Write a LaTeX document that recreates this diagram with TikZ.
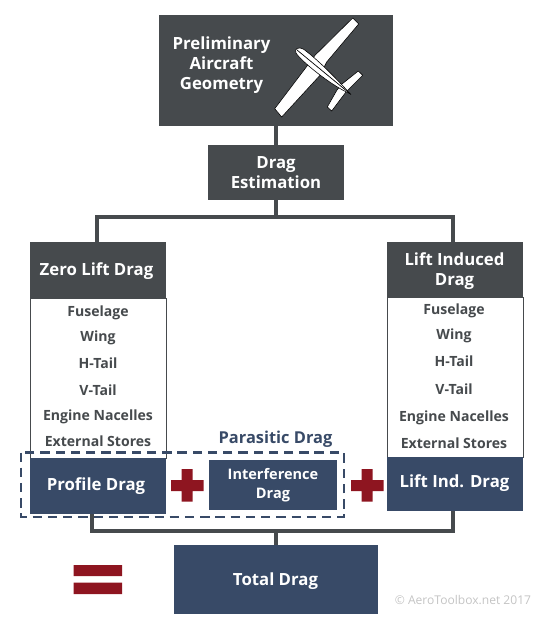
\documentclass[tikz,border=0pt]{standalone}
\usepackage{fontspec}
\setmainfont{Open Sans}
\usetikzlibrary{positioning}
\definecolor{slate}{HTML}{464A4D}
\definecolor{navy}{HTML}{384A67}
\definecolor{crimson}{HTML}{8E1520}
\definecolor{stamp}{HTML}{C4C4C4}

\begin{document}
\begin{tikzpicture}[x=.03cm,y=-.03cm,font=\bfseries]
  \tikzset{
    greybox/.style={fill=slate,text=white,align=center,inner sep=0pt,font=\fontsize{14.3}{17}\selectfont\bfseries},
    navybox/.style={fill=navy,text=white,align=center,inner sep=0pt,font=\fontsize{14.3}{17}\selectfont\bfseries},
    boxtext/.style={text=white,align=center,inner sep=0pt,font=\fontsize{14.3}{17}\selectfont\bfseries},
    listbox/.style={draw=slate,line width=.7pt,fill=white,inner sep=0pt},
    item/.style={text=slate,inner sep=0pt,text height=.75em,text depth=.2em,font=\fontsize{12}{14}\selectfont\bfseries},
    wire/.style={slate,line width=2.7pt},
    planepart/.style={fill=white,draw=black,line width=.5pt,line join=round}
  }
  \useasboundingbox (0,0) rectangle (553,623);

  % Top of the tree.
  \node[greybox,minimum width=7.02cm,minimum height=3.33cm] (geom) at (276,70.5) {};
  \node[boxtext] (geomtxt) at (221.5,65) {Preliminary\\Aircraft\\Geometry};
  \node[greybox,minimum width=4.08cm,minimum height=1.65cm] (est) at (276,172.5) {};
  \node[boxtext] (esttxt) at (276,173) {Drag\\Estimation};

  % Aeroplane.
  \draw[planepart] (352.7,18) -- (358.7,24) -- (326.7,62) -- (320,75.3) -- (281.7,117) -- (274.7,108.7) -- (305,68.7) -- (315,55.3) -- cycle;
  \draw[planepart] (358.3,71) -- (362.7,75.3) -- (346,92) -- (331.7,111) -- (327.3,107) -- (337,90) -- (342,84) -- cycle;
  \draw[planepart] (350,93.7) .. controls (335,77) and (318,60) .. (304,49.5)
    .. controls (298,46) and (294,49) .. (296,53) .. controls (300,60) and (330,85) .. (350,93.7);
  \draw[black,line width=.6pt] (297,50) -- (351,94.5);

  % Left column.
  \node[listbox,minimum width=4.08cm,minimum height=4.8cm] (zbody) at (98,378) {};
  \node[greybox,minimum width=4.08cm,minimum height=1.68cm] (zero) at (98,270) {};
  \node[boxtext] (zerotxt) at (96.5,271) {Zero Lift Drag};
  \node[item] (z1) at (98,313) {Fuselage};
  \node[item] (z2) at (98,338) {Wing};
  \node[item] (z3) at (98,365) {H-Tail};
  \node[item] (z4) at (98,392) {V-Tail};
  \node[item] (z5) at (98,417) {Engine Nacelles};
  \node[item] (z6) at (98,443) {External Stores};
  \node[navybox,minimum width=4.08cm,minimum height=1.68cm] (prof) at (98,486) {};
  \node[boxtext] (proftxt) at (96,486) {Profile Drag};

  % Right column.
  \node[listbox,minimum width=4.08cm,minimum height=4.8cm] (lbody) at (455,377) {};
  \node[greybox,minimum width=4.08cm,minimum height=1.65cm] (lift) at (455,269.5) {};
  \node[boxtext] (lifttxt) at (454.5,271) {Lift Induced\\Drag};
  \node[item] (l1) at (454,311) {Fuselage};
  \node[item] (l2) at (454,336) {Wing};
  \node[item] (l3) at (454,363) {H-Tail};
  \node[item] (l4) at (454,391) {V-Tail};
  \node[item] (l5) at (454,418) {Engine Nacelles};
  \node[item] (l6) at (454,445) {External Stores};
  \node[navybox,minimum width=4.08cm,minimum height=1.62cm] (lind) at (455,484) {};
  \node[boxtext] (lindtxt) at (454.5,483.5) {Lift Ind. Drag};

  % Middle row.
  \node[navybox,minimum width=3.84cm,minimum height=1.5cm,font=\fontsize{12.4}{16.5}\selectfont\bfseries] (intf) at (273,485) {Interference\\Drag};
  \draw[navy,line width=2pt,dash pattern=on 8pt off 5pt] (21,452.5) rectangle (344,517);
  \node[text=navy,inner sep=0pt,font=\fontsize{14}{16}\selectfont\bfseries] (para) at (275.5,439) {Parasitic Drag};
  \fill[crimson] (171,480) rectangle (203.5,491) (181.5,469) rectangle (192.5,501.5);
  \fill[crimson] (351,480) rectangle (383.5,491) (361.5,469) rectangle (372.5,501.5);
  \fill[crimson] (73.5,565) rectangle (122,576) (73.5,582.5) rectangle (122,594);

  % Bottom.
  \node[navybox,minimum width=6.12cm,minimum height=2.07cm] (total) at (276,579.5) {};
  \node[boxtext] (totaltxt) at (275.5,581) {Total Drag};
  \node[text=stamp,inner sep=0pt,font=\fontsize{10.3}{12}\selectfont] (mark) at (463,600) {© AeroToolbox.net 2017};

  % Connectors.
  \coordinate (top) at (276,217);
  \coordinate (bot) at (276,531);
  \coordinate (ztop) at (97,242);
  \coordinate (ltop) at (453,242);
  \coordinate (pbot) at (92,514);
  \coordinate (lbot) at (453,511);
  \draw[wire] (geom) -- (est);
  \draw[wire] (est) -- (top);
  \draw[wire] (ztop) |- (top) -| (ltop);
  \draw[wire] (bot) -- (total);
  \draw[wire] (pbot) |- (bot) -| (lbot);
\end{tikzpicture}
\end{document}
